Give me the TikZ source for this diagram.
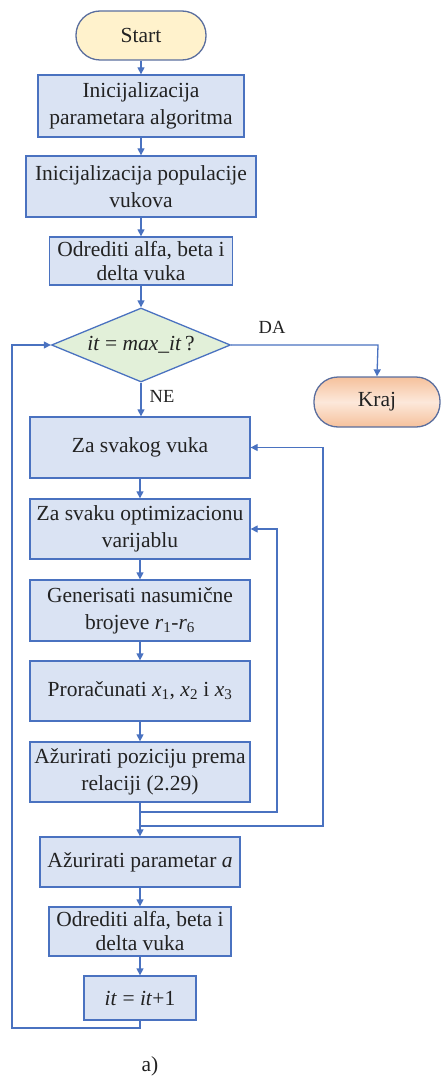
\documentclass[tikz,border=0pt]{standalone}
\usepackage{fontspec}
\setmainfont{Liberation Serif}
\usetikzlibrary{shapes.geometric,arrows.meta}
\definecolor{boxfill}{HTML}{DAE3F3}
\definecolor{boxline}{HTML}{4A72C0}
\definecolor{startfill}{HTML}{FFF2CC}
\definecolor{termline}{HTML}{5A6E9E}
\definecolor{decfill}{HTML}{E2F0D9}
\definecolor{krajdark}{HTML}{F6C19C}
\definecolor{krajlight}{HTML}{FCE8DA}
\definecolor{txt}{HTML}{222222}
\begin{document}
\begin{tikzpicture}[x=1pt,y=-1pt,
  font=\fontsize{21.5}{27}\selectfont, text=txt,
  proc/.style={draw=boxline, fill=boxfill, line width=1.3pt, rectangle, align=center, inner sep=0pt},
  term/.style={draw=termline, line width=1.3pt, rounded corners=24pt, align=center, inner sep=0pt},
  dec/.style={draw=boxline, fill=decfill, line width=1.3pt, diamond, aspect=2.4, inner sep=0pt},
  conn/.style={draw=boxline, line width=1.3pt, -{Triangle[length=7pt,width=7pt]}},
  plain/.style={draw=boxline, line width=1.3pt},
  lbl/.style={font=\fontsize{18.5}{20}\selectfont}
]
\useasboundingbox (0,0) rectangle (441,1078);

\node[term, fill=startfill, minimum width=130pt, minimum height=49pt] (start) at (141,35.5) {Start};
\node[proc, minimum width=206pt, minimum height=62pt] (b1) at (141,106) {Inicijalizacija\\parametara algoritma};
\node[proc, minimum width=230pt, minimum height=61pt] (b2) at (141,186.5) {Inicijalizacija populacije\\vukova};
\node[proc, minimum width=183pt, minimum height=48pt, font=\fontsize{21.5}{24}\selectfont] (b3) at (141,261) {Odrediti alfa, beta i\\delta vuka};
\node[dec, minimum width=179pt, minimum height=74pt] (dec) at (141,345) {\textit{it} = \textit{max\_it}\,?};
\node[term, top color=krajdark, bottom color=krajdark, middle color=krajlight, minimum width=126pt, minimum height=50pt] (kraj) at (377,402) {Kraj};

\node[proc, minimum width=220pt, minimum height=61pt] (zs) at (140,447.5) {Za svakog vuka};
\node[proc, minimum width=220pt, minimum height=60pt] (zo) at (140,529) {Za svaku optimizacionu\\varijablu};
\node[proc, minimum width=220pt, minimum height=61pt] (gen) at (140,610.5) {Generisati nasumične\\brojeve \textit{r}\textsubscript{1}-\textit{r}\textsubscript{6}};
\node[proc, minimum width=220pt, minimum height=60pt] (pro) at (140,691) {Proračunati \textit{x}\textsubscript{1}, \textit{x}\textsubscript{2} i \textit{x}\textsubscript{3}};
\node[proc, minimum width=220pt, minimum height=60pt] (azp) at (140,772) {Ažurirati poziciju prema\\relaciji (2.29)};
\node[proc, minimum width=200pt, minimum height=50pt] (apar) at (140,862) {Ažurirati parametar \textit{a}};
\node[proc, minimum width=182pt, minimum height=49pt, font=\fontsize{21.5}{24}\selectfont] (od2) at (140,931.5) {Odrediti alfa, beta i\\delta vuka};
\node[proc, minimum width=112pt, minimum height=44pt] (it) at (140,998) {\textit{it} = \textit{it}+1};

\node (cap) at (150,1066) {a)};

\coordinate (j1) at (140,812);
\coordinate (j2) at (140,826);
\coordinate (r1) at (277,529);
\coordinate (r2) at (323,447.5);
\coordinate (kc) at (378,345);
\coordinate (bl) at (12,1028);

\draw[conn] (start) -- (b1);
\draw[conn] (b1) -- (b2);
\draw[conn] (b2) -- (b3);
\draw[conn] (b3) -- (dec);
\draw[conn] (dec.east) -- (kc) -- (kraj.north);
\node[lbl] at (272,327) {DA};
\draw[conn] (dec.south) -- (dec.south |- zs.north);
\node[lbl] at (162,396) {NE};
\draw[conn] (zs) -- (zo);
\draw[conn] (zo) -- (gen);
\draw[conn] (gen) -- (pro);
\draw[conn] (pro) -- (azp);
\draw[conn] (azp) -- (apar);
\draw[conn] (j1) -| (r1) -- (zo.east);
\draw[conn] (j2) -| (r2) -- (zs.east);
\draw[conn] (apar) -- (od2);
\draw[conn] (od2) -- (it);
\draw[conn] (it.south) |- (bl) |- (dec.west);
\end{tikzpicture}
\end{document}
